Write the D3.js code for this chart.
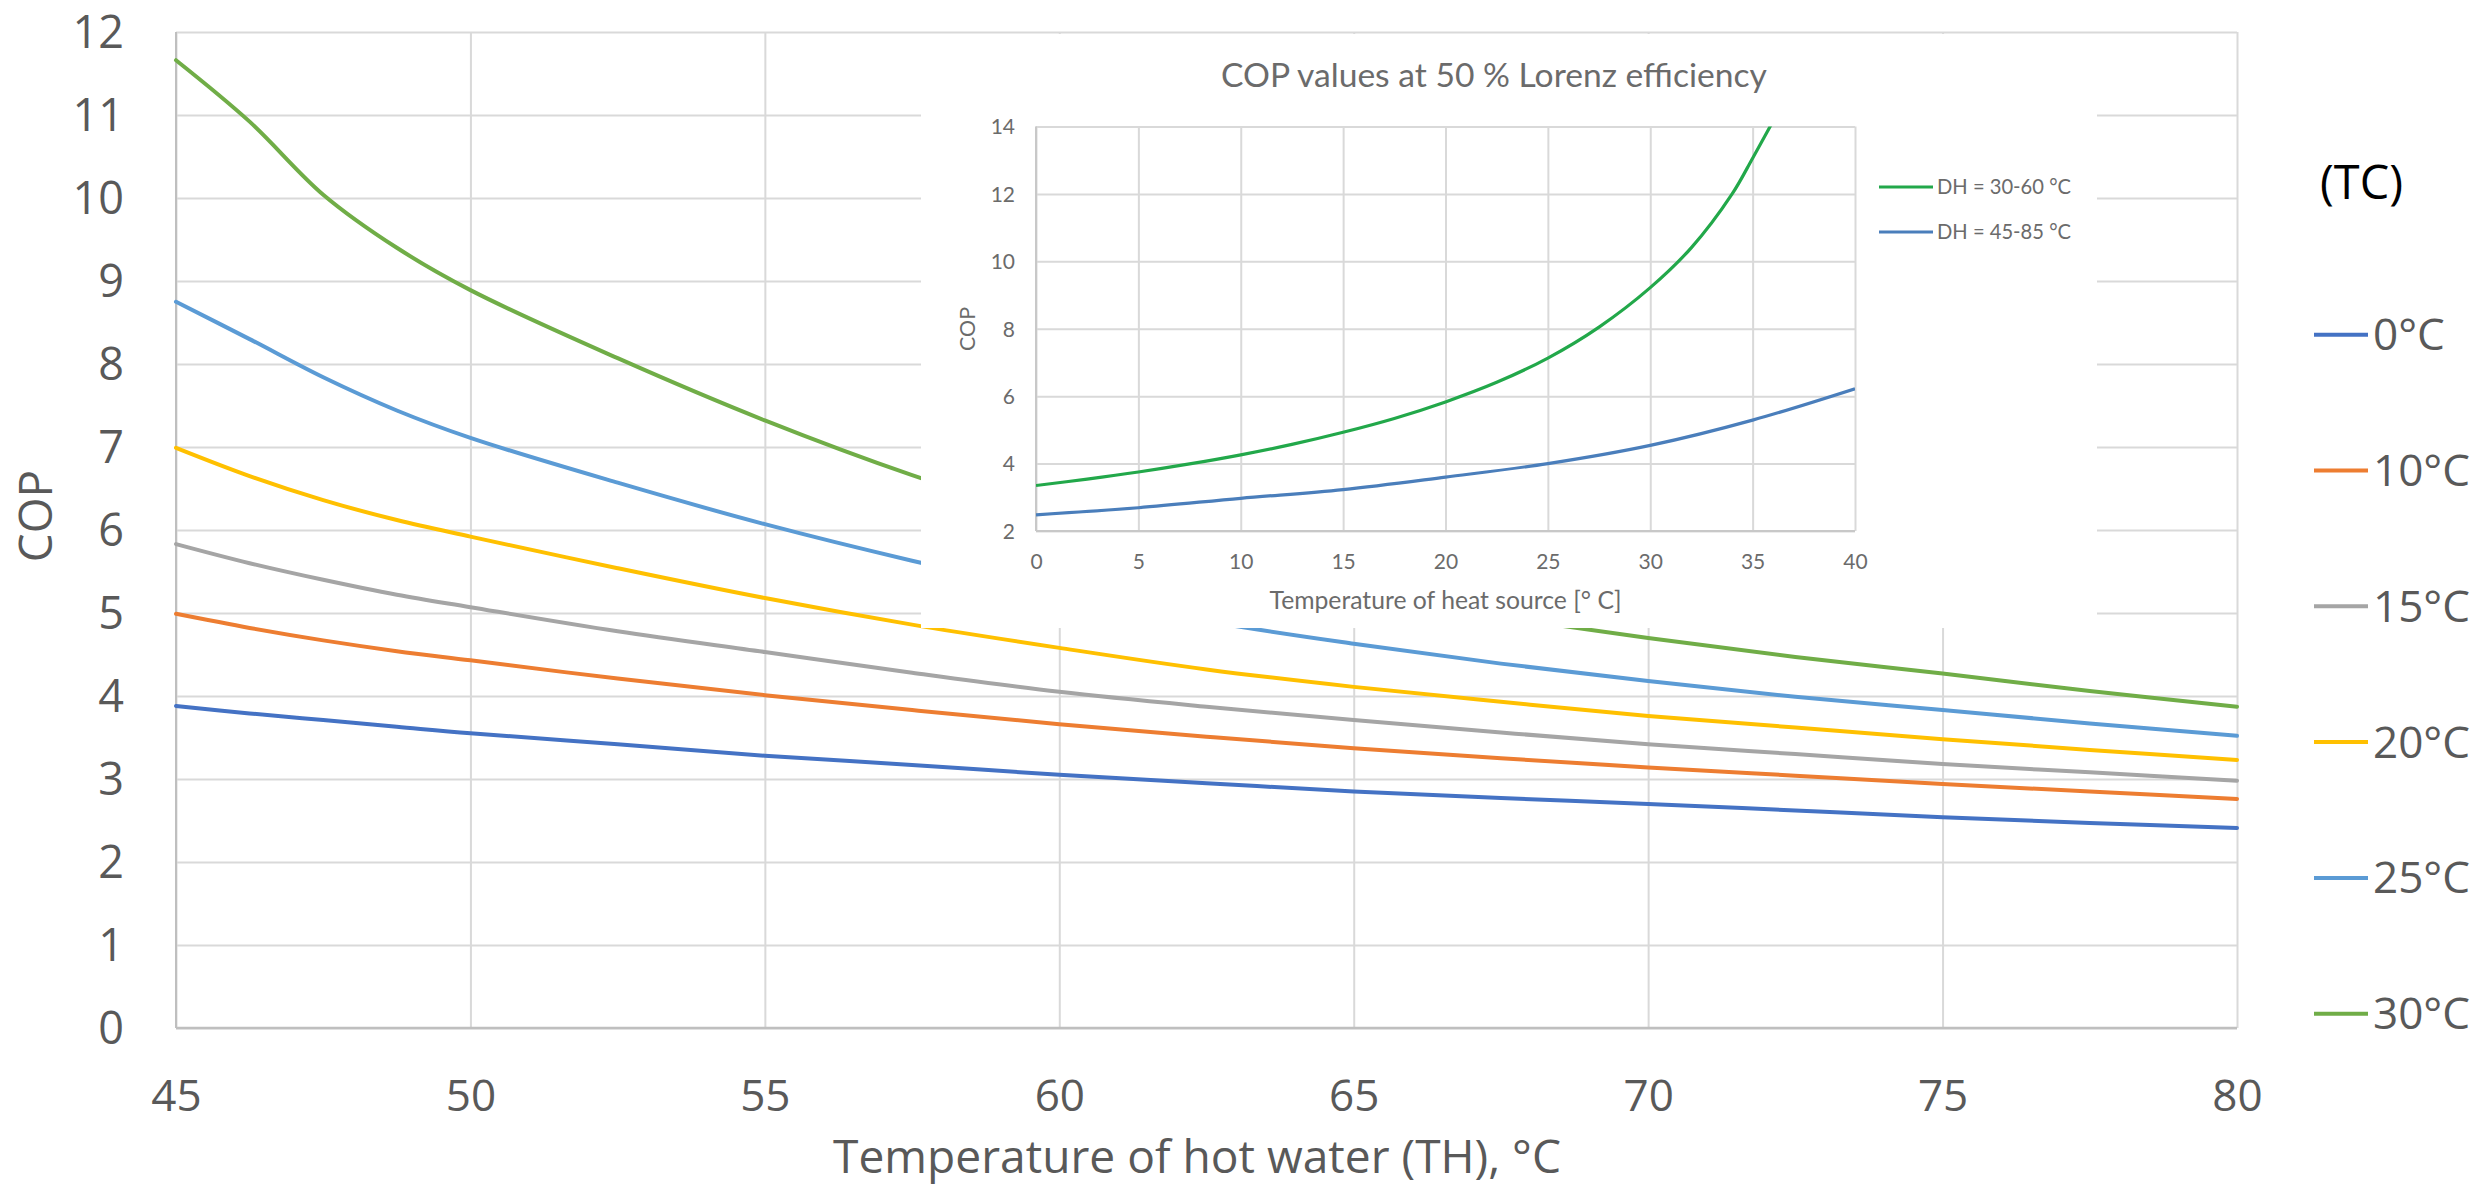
<!DOCTYPE html>
<html><head><meta charset="utf-8">
<script src="https://cdn.jsdelivr.net/npm/d3@7"></script>
<style>body{margin:0;background:#fff}svg{display:block}</style>
</head><body>
<svg id="c" width="2481" height="1186"></svg>
<script>
// ---------- DATA (main chart) ----------
const hotWaterTemp = [45, 46.25, 47.5, 48.75, 50, 52.5, 55, 57.5, 60, 62.5, 65, 67.5, 70, 72.5, 75, 77.5, 80];
const seriesNames = ["0°C", "10°C", "15°C", "20°C", "25°C", "30°C"];
const cop0  = [3.88, 3.79, 3.71, 3.63, 3.55, 3.42, 3.28, 3.17, 3.05, 2.95, 2.85, 2.77, 2.70, 2.62, 2.54, 2.47, 2.41];
const cop10 = [4.99, 4.82, 4.67, 4.54, 4.43, 4.21, 4.01, 3.83, 3.66, 3.51, 3.37, 3.25, 3.14, 3.04, 2.94, 2.85, 2.76];
const cop15 = [5.83, 5.60, 5.40, 5.22, 5.07, 4.78, 4.53, 4.28, 4.05, 3.87, 3.71, 3.56, 3.42, 3.30, 3.18, 3.08, 2.98];
const cop20 = [6.99, 6.65, 6.36, 6.12, 5.92, 5.54, 5.18, 4.86, 4.58, 4.32, 4.11, 3.93, 3.76, 3.62, 3.48, 3.35, 3.23];
const cop25 = [8.75, 8.30, 7.84, 7.44, 7.11, 6.57, 6.07, 5.63, 5.24, 4.90, 4.63, 4.39, 4.18, 3.99, 3.83, 3.67, 3.52];
const cop30 = [11.66, 10.92, 10.04, 9.40, 8.89, 8.07, 7.32, 6.66, 6.10, 5.62, 5.23, 4.95, 4.70, 4.47, 4.27, 4.06, 3.87];
const seriesValues = [cop0, cop10, cop15, cop20, cop25, cop30];
const seriesColors = ["#4472C4", "#ED7D31", "#A5A5A5", "#FFC000", "#5B9BD5", "#70AD47"];
const xTicks = [45, 50, 55, 60, 65, 70, 75, 80];
const yTicks = [0, 1, 2, 3, 4, 5, 6, 7, 8, 9, 10, 11, 12];

// ---------- DATA (inset) ----------
const insetNames = ["DH = 30-60 °C", "DH = 45-85 °C"];
const insetGreenX = [0, 2.5, 5, 7.5, 10, 12.5, 15, 17.5, 20, 22.5, 25, 27.5, 30, 32, 34, 35, 36];
const insetGreenY = [3.35, 3.54, 3.75, 3.99, 4.26, 4.57, 4.93, 5.34, 5.83, 6.41, 7.13, 8.05, 9.22, 10.4, 12.0, 13.06, 14.16];
const insetBlueX = [0, 5, 10, 15, 20, 25, 30, 35, 40];
const insetBlueY = [2.48, 2.69, 2.97, 3.23, 3.60, 4.00, 4.54, 5.29, 6.22];
const insetColors = ["#22A84A", "#4A7EBB"];
const insetXTicks = [0, 5, 10, 15, 20, 25, 30, 35, 40];
const insetYTicks = [2, 4, 6, 8, 10, 12, 14];

// ---------- helpers ----------
const svg = d3.select("#c");
function fit(sel, target) {
  const w = sel.node().getComputedTextLength();
  const fs = parseFloat(sel.attr("font-size"));
  sel.attr("font-size", (fs * target / w).toFixed(2));
  return sel;
}
const MAINF = "'Open Sans', 'Noto Sans', sans-serif";
const INSF = "Lato, 'Open Sans', sans-serif";
const TXT = "#595959";

// ---------- main chart ----------
const M = {left: 176, right: 2237, top: 32, bottom: 1028};
const x = d3.scaleLinear().domain([45, 80]).range([M.left, M.right]);
const y = d3.scaleLinear().domain([0, 12]).range([M.bottom, M.top]);

const gX = svg.append("g").attr("transform", `translate(0,${M.bottom})`)
  .call(d3.axisBottom(x).tickValues(xTicks).tickSize(-(M.bottom - M.top)).tickFormat(d3.format("d")));
gX.select(".domain").remove();
gX.selectAll("line").attr("stroke", "#D9D9D9").attr("stroke-width", 2);
gX.selectAll("text").attr("y", 68).attr("dy", "0.35em")
  .attr("font-family", MAINF).attr("font-size", 44).attr("fill", TXT);

const gY = svg.append("g").attr("transform", `translate(${M.left},0)`)
  .call(d3.axisLeft(y).tickValues(yTicks).tickSize(-(M.right - M.left)).tickFormat(d3.format("d")));
gY.select(".domain").remove();
gY.selectAll("line").attr("stroke", "#D9D9D9").attr("stroke-width", 2);
gY.selectAll("text").attr("x", -52).attr("dy", "0.35em").attr("text-anchor", "end")
  .attr("font-family", MAINF).attr("font-size", 45).attr("fill", TXT);

// axis lines
svg.append("line").attr("x1", M.left).attr("x2", M.left).attr("y1", M.top).attr("y2", M.bottom)
  .attr("stroke", "#BFBFBF").attr("stroke-width", 2);
svg.append("line").attr("x1", M.left).attr("x2", M.right).attr("y1", M.bottom).attr("y2", M.bottom)
  .attr("stroke", "#BFBFBF").attr("stroke-width", 2.5);

const line = d3.line().x(d => x(d[0])).y(d => y(d[1])).curve(d3.curveCatmullRom.alpha(0.5));
seriesValues.forEach((vals, i) => {
  svg.append("path").datum(hotWaterTemp.map((t, j) => [t, vals[j]]))
    .attr("d", line).attr("fill", "none").attr("stroke", seriesColors[i])
    .attr("stroke-width", 4).attr("stroke-linejoin", "round").attr("stroke-linecap", "round");
});

// axis titles
const xt = svg.append("text").text("Temperature of hot water (TH), °C")
  .attr("x", 1197).attr("y", 1173)
  .attr("text-anchor", "middle")
  .attr("font-family", MAINF).attr("font-size", 42).attr("fill", TXT);
fit(xt, 728);
svg.append("text").text("COP")
  .attr("transform", "translate(52,516) rotate(-90)").attr("text-anchor", "middle")
  .attr("font-family", MAINF).attr("font-size", 46).attr("fill", TXT);

// legend
const lt = svg.append("text").text("(TC)").attr("x", 2320).attr("y", 183).attr("dy", "0.35em")
  .attr("font-family", MAINF).attr("font-size", 46).attr("fill", "#000");
fit(lt, 83);
const probe = svg.append("text").text(seriesNames[1]).attr("font-family", MAINF).attr("font-size", 46);
fit(probe, 97);
const legFs = probe.attr("font-size");
probe.remove();
seriesNames.forEach((n, i) => {
  const ly = 334.7 + i * 135.8;
  svg.append("line").attr("x1", 2314).attr("x2", 2368).attr("y1", ly).attr("y2", ly)
    .attr("stroke", seriesColors[i]).attr("stroke-width", 4);
  svg.append("text").text(n).attr("x", 2373).attr("y", ly).attr("dy", "0.35em")
    .attr("font-family", MAINF).attr("font-size", legFs).attr("fill", TXT);
});

// ---------- inset ----------
const IB = {x0: 921, x1: 2097, y0: 34, y1: 628};
const inset = svg.append("g");
inset.append("rect").attr("x", IB.x0).attr("y", IB.y0).attr("width", IB.x1 - IB.x0).attr("height", IB.y1 - IB.y0)
  .attr("fill", "#fff");
const ix = d3.scaleLinear().domain([0, 40]).range([1036, 1855]);
const iy = d3.scaleLinear().domain([2, 14]).range([531, 126.5]);
const ITXT = "#6b6b6b";

const igX = inset.append("g").attr("transform", `translate(0,${iy(2)})`)
  .call(d3.axisBottom(ix).tickValues(insetXTicks).tickSize(-(iy(2) - iy(14))).tickFormat(d3.format("d")));
igX.select(".domain").remove();
igX.selectAll("line").attr("stroke", "#D9D9D9").attr("stroke-width", 2);
igX.selectAll("text").attr("y", 31).attr("dy", "0.35em")
  .attr("font-family", INSF).attr("font-size", 21).attr("fill", ITXT);

const igY = inset.append("g").attr("transform", `translate(${ix(0)},0)`)
  .call(d3.axisLeft(iy).tickValues(insetYTicks).tickSize(-(ix(40) - ix(0))).tickFormat(d3.format("d")));
igY.select(".domain").remove();
igY.selectAll("line").attr("stroke", "#D9D9D9").attr("stroke-width", 2);
igY.selectAll("text").attr("x", -21).attr("dy", "0.35em").attr("text-anchor", "end")
  .attr("font-family", INSF).attr("font-size", 21).attr("fill", ITXT);

inset.append("line").attr("x1", ix(0)).attr("x2", ix(0)).attr("y1", iy(14)).attr("y2", iy(2))
  .attr("stroke", "#C8C8C8").attr("stroke-width", 2);
inset.append("line").attr("x1", ix(0)).attr("x2", ix(40)).attr("y1", iy(2)).attr("y2", iy(2))
  .attr("stroke", "#C8C8C8").attr("stroke-width", 2);

svg.append("defs").append("clipPath").attr("id", "iclip").append("rect")
  .attr("x", ix(0)).attr("y", iy(14)).attr("width", ix(40) - ix(0)).attr("height", iy(2) - iy(14));
const iline = d3.line().x(d => ix(d[0])).y(d => iy(d[1])).curve(d3.curveCatmullRom.alpha(0.5));
inset.append("path").datum(insetGreenX.map((t, j) => [t, insetGreenY[j]]))
  .attr("d", iline).attr("fill", "none").attr("stroke", insetColors[0]).attr("stroke-width", 3.2)
  .attr("clip-path", "url(#iclip)");
inset.append("path").datum(insetBlueX.map((t, j) => [t, insetBlueY[j]]))
  .attr("d", iline).attr("fill", "none").attr("stroke", insetColors[1]).attr("stroke-width", 3.2)
  .attr("clip-path", "url(#iclip)");

const itl = inset.append("text").text("COP values at 50 % Lorenz efficiency")
  .attr("x", 1494).attr("y", 75.5).attr("dy", "0.35em").attr("text-anchor", "middle")
  .attr("font-family", INSF).attr("font-size", 30).attr("fill", ITXT);
fit(itl, 546);
const ixt = inset.append("text").text("Temperature of heat source [° C]")
  .attr("x", 1445.5).attr("y", 600).attr("dy", "0.35em").attr("text-anchor", "middle")
  .attr("font-family", INSF).attr("font-size", 22).attr("fill", ITXT);
fit(ixt, 352);
const iyt = inset.append("text").text("COP")
  .attr("transform", "translate(967,329) rotate(-90)").attr("dy", "0.35em").attr("text-anchor", "middle")
  .attr("font-family", INSF).attr("font-size", 21).attr("fill", ITXT);
fit(iyt, 44);

const iprobe = inset.append("text").text(insetNames[0]).attr("font-family", INSF).attr("font-size", 18);
fit(iprobe, 134);
const ilFs = iprobe.attr("font-size");
iprobe.remove();
insetNames.forEach((n, i) => {
  const ly = 187 + i * 45;
  inset.append("line").attr("x1", 1879).attr("x2", 1933).attr("y1", ly).attr("y2", ly)
    .attr("stroke", insetColors[i]).attr("stroke-width", 3.2);
  inset.append("text").text(n).attr("x", 1937).attr("y", ly).attr("dy", "0.35em")
    .attr("font-family", INSF).attr("font-size", ilFs).attr("fill", ITXT);
});
</script>
</body></html>
